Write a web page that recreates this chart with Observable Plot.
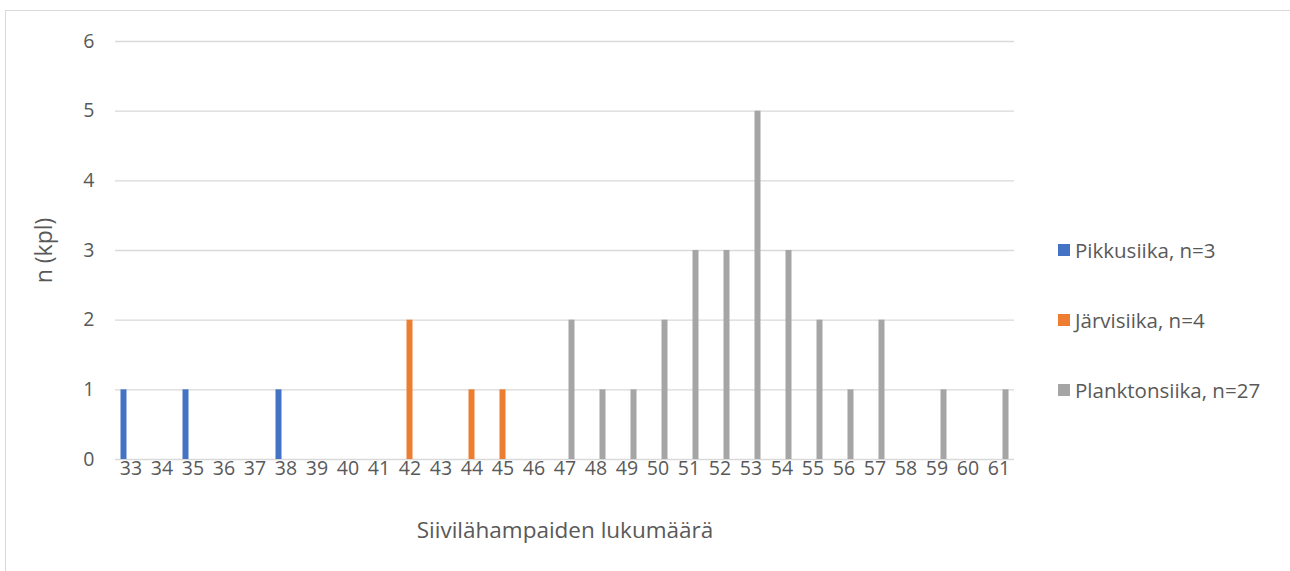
<!DOCTYPE html>
<html>
<head>
<meta charset="utf-8">
<script src="https://cdn.jsdelivr.net/npm/d3@7"></script>
<script src="https://cdn.jsdelivr.net/npm/@observablehq/plot@0.6"></script>
<style>
  html, body { margin: 0; padding: 0; background: #fff; overflow: hidden; }
  body { width: 1290px; height: 571px; position: relative; font-family: "Open Sans", sans-serif; color: #595959; }
  #border { position: absolute; left: 5px; top: 10px; width: 1320px; height: 620px; border: 1px solid #d9d9d9; box-sizing: border-box; }
  #chart { position: absolute; left: 0; top: 0; }
  #legend { position: absolute; left: 1058px; top: 0; }
  .item { position: absolute; left: 0; white-space: nowrap; font-size: 20.5px; line-height: 24px; display: flex; align-items: center; }
  .sw { width: 12px; height: 12px; margin-right: 5px; display: inline-block; }
</style>
</head>
<body>
<div id="border"></div>
<div id="chart"></div>
<div id="legend"></div>
<script>
const categories = ["33","34","35","36","37","38","39","40","41","42","43","44","45","46","47","48","49","50","51","52","53","54","55","56","57","58","59","60","61"];
const yTicks = [0, 1, 2, 3, 4, 5, 6];

const seriesNames = ["Pikkusiika, n=3", "Järvisiika, n=4", "Planktonsiika, n=27"];
const seriesColors = ["#4472C4", "#ED7D31", "#A5A5A5"];

const pikkuX = ["33", "35", "38"];
const pikkuN = [1, 1, 1];
const jarviX = ["42", "44", "45"];
const jarviN = [2, 1, 1];
const planktonX = ["47","48","49","50","51","52","53","54","55","56","57","59","61"];
const planktonN = [2, 1, 1, 2, 3, 3, 5, 3, 2, 1, 2, 1, 1];

const toRows = (xs, ns) => xs.map((x, i) => ({x, n: ns[i]}));
const series = [toRows(pikkuX, pikkuN), toRows(jarviX, jarviN), toRows(planktonX, planktonN)];
const offsets = [-7, 0, 7];

const chart = Plot.plot({
  width: 1290,
  height: 571,
  marginLeft: 115,
  marginRight: 276,
  marginTop: 41,
  marginBottom: 112,
  style: {fontFamily: "Open Sans, sans-serif", color: "#595959", background: "transparent"},
  x: {type: "band", domain: categories, padding: 0},
  y: {domain: [0, 6]},
  marks: [
    Plot.ruleY(yTicks, {stroke: "#d9d9d9", strokeWidth: 1.3}),
    ...series.map((rows, i) => Plot.barY(rows, {
      x: "x", y: "n", fill: seriesColors[i], dx: offsets[i], insetLeft: 12.5, insetRight: 12.5
    })),
    Plot.axisY({ticks: yTicks, tickFormat: "d", tickSize: 0, tickPadding: 21, fontSize: 19.5, label: "n (kpl)", labelAnchor: "center", labelOffset: 80, labelArrow: "none"}),
    Plot.axisX({tickSize: 0, tickPadding: 2, fontSize: 19.5, label: "Siivilähampaiden lukumäärä", labelAnchor: "center", labelOffset: 78, labelArrow: "none"})
  ]
});
chart.querySelectorAll("g[aria-label='y-axis label'] text").forEach(t => t.setAttribute("font-size", "23"));
chart.querySelectorAll("g[aria-label='x-axis label'] text").forEach(t => t.setAttribute("font-size", "22.5"));
document.getElementById("chart").appendChild(chart);

const legendTops = [250, 320, 390];
const legend = document.getElementById("legend");
seriesNames.forEach((name, i) => {
  const d = document.createElement("div");
  d.className = "item";
  d.style.top = (legendTops[i] - 12) + "px";
  const sw = document.createElement("span");
  sw.className = "sw";
  sw.style.background = seriesColors[i];
  d.appendChild(sw);
  d.appendChild(document.createTextNode(name));
  legend.appendChild(d);
});
</script>
</body>
</html>
